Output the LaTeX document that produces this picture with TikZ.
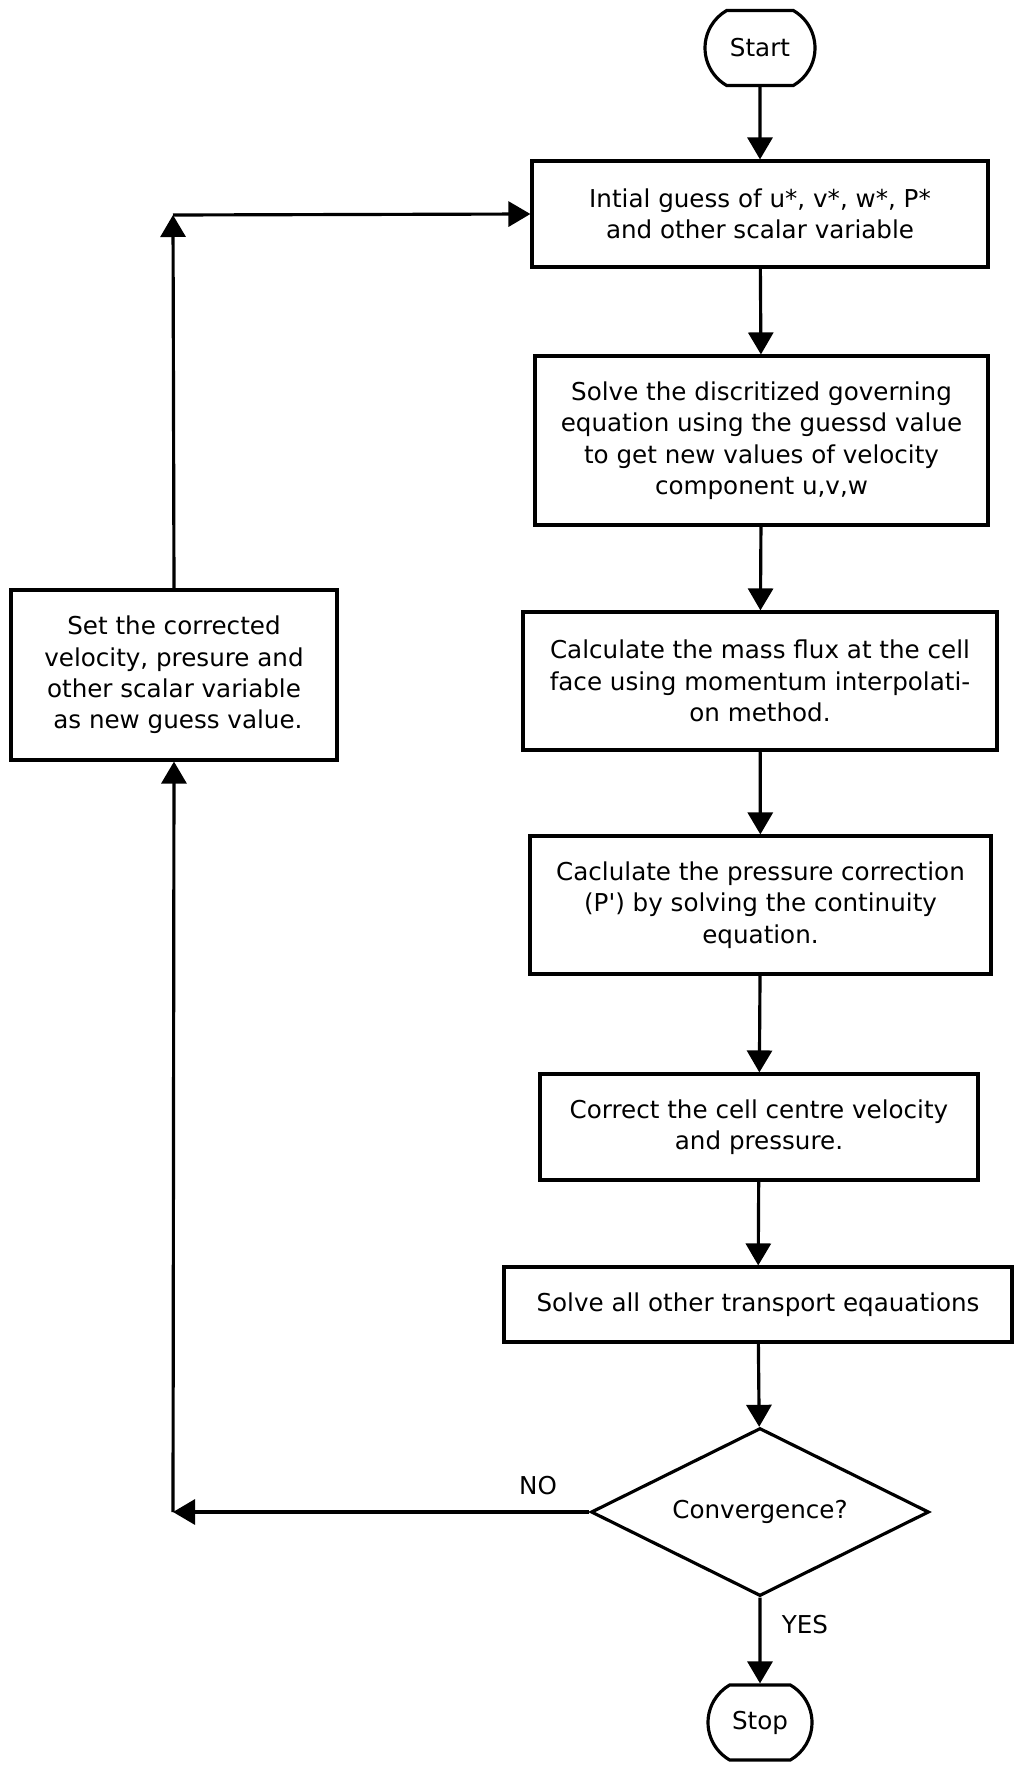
\documentclass[tikz,border=0pt]{standalone}
\usepackage{fontspec}
\setmainfont{DejaVu Sans}
\usetikzlibrary{arrows.meta,shapes.geometric,shapes.misc}

\begin{document}
\begin{tikzpicture}[
  font=\fontsize{14}{17.9}\selectfont,
  flowbox/.style={draw,line width=1.8pt,align=center,inner sep=0pt},
  termbox/.style={draw,line width=1.8pt,rounded rectangle,rounded rectangle arc length=120,
    minimum height=1.5cm,inner sep=0pt},
  flowarrow/.style={line width=1.8pt,-{Triangle[width=0.5cm,length=0.44cm]}}
]
  \useasboundingbox (0,0) rectangle (20.26,-35.3);
  \coordinate (topturn) at (3.46,-4.3);
  \coordinate (noturn) at (3.46,-30.24);
  \node[termbox,minimum width=2.2cm] (start) at (15.2,-0.96) {Start};
  \node[flowbox,minimum width=9.12cm,minimum height=2.12cm] (guess) at (15.2,-4.28)
    {Intial guess of u*, v*, w*, P*\\and other scalar variable};
  \node[flowbox,minimum width=9.06cm,minimum height=3.38cm] (solve) at (15.23,-8.81)
    {Solve the discritized governing\\equation using the guessd value\\to get new values of velocity\\component u,v,w};
  \node[flowbox,minimum width=9.48cm,minimum height=2.76cm] (flux) at (15.2,-13.62)
    {Calculate the mass flux at the cell\\face using momentum interpolati-\\on method.};
  \node[flowbox,minimum width=9.22cm,minimum height=2.76cm] (pcorr) at (15.21,-18.1)
    {Caclulate the pressure correction\\(P\textquotesingle) by solving the continuity\\equation.};
  \node[flowbox,minimum width=8.76cm,minimum height=2.12cm] (correct) at (15.18,-22.54)
    {Correct the cell centre velocity\\and pressure.};
  \node[flowbox,minimum width=10.16cm,minimum height=1.5cm] (transport) at (15.16,-26.09)
    {Solve all other transport eqauations};
  \node[flowbox,diamond,aspect=2,minimum width=6.76cm,minimum height=3.36cm] (conv) at (15.2,-30.24)
    {Convergence?};
  \node[termbox,minimum width=2.08cm] (stop) at (15.2,-34.45) {Stop};
  \node[flowbox,minimum width=6.52cm,minimum height=3.4cm] (setguess) at (3.48,-13.5)
    {Set the corrected\\velocity, presure and\\other scalar variable\\\ as new guess value.};
  \node (nolbl) at (10.76,-29.72) {NO};
  \node (yeslbl) at (16.1,-32.5) {YES};
  \draw[flowarrow] (start) -- (guess);
  \draw[flowarrow] (guess) -- (solve);
  \draw[flowarrow] (solve) -- (flux);
  \draw[flowarrow] (flux) -- (pcorr);
  \draw[flowarrow] (pcorr) -- (correct);
  \draw[flowarrow] (correct) -- (transport);
  \draw[flowarrow] (transport) -- (conv);
  \draw[flowarrow] (conv) -- (stop);
  \draw[flowarrow] (conv.west) -- (noturn);
  \draw[flowarrow] (noturn) -- (setguess.south);
  \draw[flowarrow] (setguess.north) -- (topturn);
  \draw[flowarrow] (topturn) -- (guess.west);
\end{tikzpicture}
\end{document}
